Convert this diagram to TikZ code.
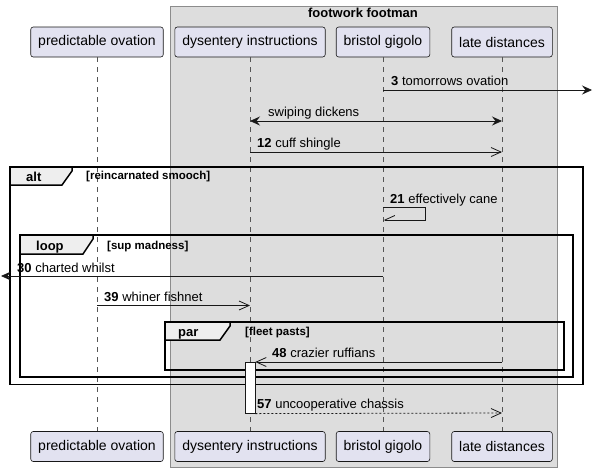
\documentclass[tikz,border=0pt]{standalone}
\usepackage{fontspec}
\setmainfont{Liberation Sans}
\usetikzlibrary{arrows.meta}

\definecolor{partfill}{HTML}{E2E2F0}
\definecolor{partline}{HTML}{181818}
\definecolor{boxfill}{HTML}{DDDDDD}
\definecolor{boxline}{HTML}{8C8C8C}
\definecolor{tabfill}{HTML}{EEEEEE}
\definecolor{lifecol}{HTML}{555555}

\tikzset{
  part/.style={draw=partline, fill=partfill, rounded corners=2.5pt, line width=0.6pt,
    minimum height=30pt, inner xsep=7.5pt, font=\fontsize{14}{16}\selectfont},
  life/.style={draw=lifecol, line width=0.6pt, dash pattern=on 5pt off 5pt},
  msg/.style={draw=partline, line width=0.8pt},
  full/.style={msg, -{Stealth[length=10pt,width=9pt,inset=3.5pt]}},
  both/.style={msg, {Stealth[length=10pt,width=9pt,inset=3.5pt]}-{Stealth[length=10pt,width=9pt,inset=3.5pt]}},
  open/.style={msg, -{Straight Barb[length=10pt,width=9pt]}},
  reply/.style={open, dash pattern=on 2pt off 2pt},
  lbl/.style={inner sep=0pt, anchor=base west, font=\fontsize{13}{15}\selectfont},
  frame/.style={draw=black, line width=1.5pt},
  tab/.style={draw=black, fill=tabfill, line width=1.5pt},
  tabname/.style={inner sep=0pt, anchor=base west, font=\fontsize{13}{15}\selectfont\bfseries},
  guard/.style={inner sep=0pt, anchor=base west, font=\fontsize{11.5}{13}\selectfont\bfseries},
}

\begin{document}
\begin{tikzpicture}[x=1pt,y=-1pt]
  \useasboundingbox (0,0) rectangle (593,472);

  % box
  \draw[fill=boxfill, draw=boxline, line width=0.8pt] (170.5,6) rectangle (557,467);
  \node[inner sep=0pt, anchor=base, font=\fontsize{13}{15}\selectfont\bfseries] (grp) at (363,17) {footwork footman};

  % participants
  \node[part] (po)  at (97,42)  {predictable ovation};
  \node[part] (di)  at (250,42) {dysentery instructions};
  \node[part] (bg)  at (383,42) {bristol gigolo};
  \node[part] (ld)  at (502,42) {late distances};
  \node[part] (po2) at (97,446.5)  {predictable ovation};
  \node[part] (di2) at (250,446.5) {dysentery instructions};
  \node[part] (bg2) at (383,446.5) {bristol gigolo};
  \node[part] (ld2) at (502,446.5) {late distances};

  \draw[life] (po) -- (po2);
  \draw[life] (di) -- (di2);
  \draw[life] (bg) -- (bg2);
  \draw[life] (ld) -- (ld2);

  % frames
  \draw[frame] (10,167) rectangle (583,384.5);
  \draw[tab] (10,167) -- (72,167) -- (72,171) -- (62,185) -- (10,185) -- cycle;
  \node[tabname] (alt) at (26,181) {alt};
  \node[guard] (altg) at (86,179) {[reincarnated smooch]};

  \draw[frame] (20,235) rectangle (573,377);
  \draw[tab] (20,235) -- (93,235) -- (93,239) -- (83,254) -- (20,254) -- cycle;
  \node[tabname] (loop) at (36,250) {loop};
  \node[guard] (loopg) at (107,249) {[sup madness]};

  \draw[frame] (165,322) rectangle (564,370);
  \draw[tab] (165,322) -- (230,322) -- (230,326) -- (220,340) -- (165,340) -- cycle;
  \node[tabname] (par) at (178,336) {par};
  \node[guard] (parg) at (245,335.5) {[fleet pasts]};

  % messages
  \coordinate (m3a) at (bg |- 0,90);
  \coordinate (m3b) at (592,90);
  \draw[full] (m3a) -- (m3b);
  \node[lbl] (t3) at (391,85) {\textbf{3} tomorrows ovation};

  \coordinate (swa) at (di |- 0,121);
  \coordinate (swb) at (ld |- 0,121);
  \draw[both] (swa) -- (swb);
  \node[lbl] (tsw) at (268,116) {swiping dickens};

  \coordinate (m12a) at (di |- 0,152);
  \coordinate (m12b) at (ld |- 0,152);
  \draw[open] (m12a) -- (m12b);
  \node[lbl] (t12) at (257,147) {\textbf{12} cuff shingle};

  \coordinate (m21a) at (bg |- 0,207.5);
  \coordinate (m21b) at (bg |- 0,220);
  \draw[msg, -{Straight Barb[harpoon,swap,length=10pt,width=9pt]}]
    (m21a) -- ++(42.5,0) -- ++(0,12.5) -- (m21b);
  \node[lbl] (t21) at (390,203) {\textbf{21} effectively cane};

  \coordinate (m30a) at (bg |- 0,276);
  \coordinate (m30b) at (1,276);
  \draw[full] (m30a) -- (m30b);
  \node[lbl] (t30) at (17,272) {\textbf{30} charted whilst};

  \coordinate (m39a) at (po |- 0,305.5);
  \coordinate (m39b) at (di |- 0,305.5);
  \draw[open] (m39a) -- (m39b);
  \node[lbl] (t39) at (104,301) {\textbf{39} whiner fishnet};

  % activation
  \node[draw=partline, fill=white, line width=0.6pt, minimum width=10pt, minimum height=51pt,
    inner sep=0pt, anchor=north] (act) at (di |- 0,362) {};

  \coordinate (m48a) at (ld |- 0,362);
  \draw[open] (m48a) -- (act.north east);
  \node[lbl] (t48) at (272,357) {\textbf{48} crazier ruffians};

  \coordinate (m57b) at (ld |- 0,413);
  \draw[reply] (act.south east) -- (m57b);
  \node[lbl] (t57) at (257,408) {\textbf{57} uncooperative chassis};
\end{tikzpicture}
\end{document}
